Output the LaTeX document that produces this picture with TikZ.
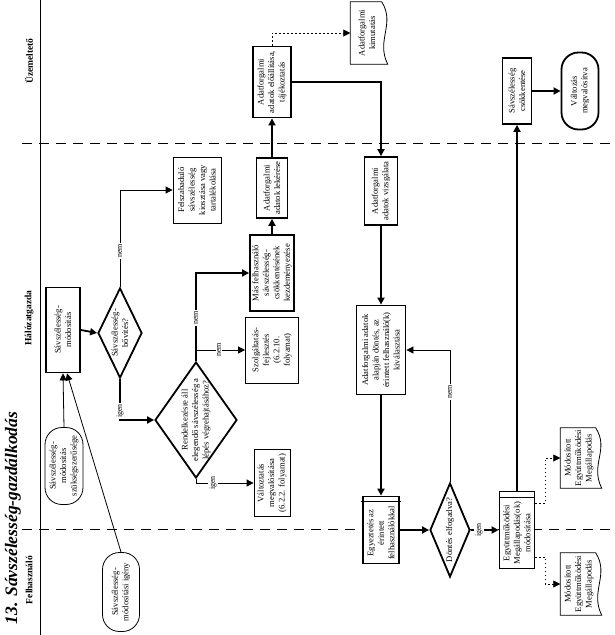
\documentclass[tikz,border=0pt]{standalone}
\usepackage{fontspec}
\setmainfont{Liberation Serif}
\usetikzlibrary{shapes.geometric,arrows.meta,calc}
\newcommand\docoutline[1]{%
  \draw[thn] (#1.north west) -- ($(#1.north east)+(-6,0)$)
    .. controls ($(#1.north east)+(8,22)$) and ($(#1.south east)+(-12,-24)$) .. (#1.south east)
    -- (#1.south west) -- cycle;}
\begin{document}
\begin{tikzpicture}[x=1pt,y=-1pt,
  tip/.style={-{Triangle[length=7pt,width=7pt]}},
  thk/.style={line width=1.8pt},
  thn/.style={line width=0.8pt},
  box/.style={draw,thk,rectangle,inner sep=0pt,fill=white},
  tbox/.style={draw,thn,rectangle,inner sep=0pt,fill=white},
  dia/.style={draw,thk,diamond,inner sep=0pt,fill=white},
  stad/.style={draw,rectangle,rounded corners=17pt,inner sep=0pt,fill=white},
  docbox/.style={rectangle,inner sep=0pt,fill=white},
  rt/.style={rotate=90,align=center,inner sep=0pt,font=\fontsize{8.6}{10.5}\selectfont},
  lb/.style={rotate=90,fill=white,inner sep=1pt,font=\fontsize{8}{9}\selectfont},
  lane/.style={rotate=90,inner sep=0pt,font=\fontsize{9.5}{11}\selectfont\bfseries},
  dots/.style={thn,dash pattern=on 1.2pt off 2.8pt},
  lanedash/.style={line width=1pt,dash pattern=on 10pt off 7pt}]
\useasboundingbox (0,0) rectangle (614,635);

% lanes
\draw[line width=1pt] (40,0) -- (40,635);
\draw[lanedash] (22,143) -- (614,143);
\draw[lanedash] (22,529) -- (614,529);
\node[rotate=90,inner sep=0pt,font=\fontsize{17.5}{19}\selectfont\bfseries\itshape] (title) at (13,518) {13. Sávszélesség-gazdálkodás};
\node[lane] (lz) at (29,61) {Üzemeltető};
\node[lane] (lh) at (29,318) {Hálózatgazda};
\node[lane] (lf) at (29,580) {Felhasználó};

% shapes
\node[box, minimum width=34pt, minimum height=85pt] (b1) at (63,330) {};
\node[dia, minimum width=44pt, minimum height=90pt] (d1) at (120,333) {};
\node[tbox, minimum width=48pt, minimum height=66pt] (fs) at (197,190) {};
\node[dia, minimum width=82pt, minimum height=116pt] (d2) at (196,420) {};
\node[tbox, minimum width=53pt, minimum height=66pt] (sz) at (272,350) {};
\node[tbox, minimum width=36pt, minimum height=67pt] (vb) at (272,483) {};
\node[box, minimum width=44pt, minimum height=76pt] (mb) at (272,273) {};
\node[box, minimum width=31pt, minimum height=60pt] (lk) at (272,188) {};
\node[box, minimum width=38pt, minimum height=71pt] (el) at (272,82) {};
\node[docbox, minimum width=37pt, minimum height=62pt] (doc1) at (369,33) {};
\node[box, minimum width=33pt, minimum height=68pt] (vz) at (381,191) {};
\node[box, minimum width=49pt, minimum height=89pt] (dn) at (381,350) {};
\node[box, minimum width=36pt, minimum height=67pt] (eg) at (381,530) {};
\node[dia, minimum width=40pt, minimum height=94pt] (d3) at (450,530) {};
\node[box, minimum width=35pt, minimum height=77pt] (em) at (517,530) {};
\node[box, minimum width=29pt, minimum height=66pt] (sc) at (517,91) {};
\node[stad, thk, minimum width=37pt, minimum height=77pt] (vm) at (580,91) {};
\node[docbox, minimum width=41pt, minimum height=60pt] (doc2) at (581,458) {};
\node[docbox, minimum width=41pt, minimum height=62pt] (doc3) at (581,584) {};
\node[stad, thn, minimum width=38pt, minimum height=77pt] (o1) at (64,466) {};
\node[stad, thn, minimum width=37pt, minimum height=79pt] (o2) at (121,592) {};

\docoutline{doc1}
\docoutline{doc2}
\docoutline{doc3}
\draw[thn] ($(eg.north west)+(-1.5,6)$) -- ($(eg.north east)+(1.5,6)$);
\draw[thn] ($(em.north west)+(0,7)$) -- ($(em.north east)+(0,7)$);

% texts
\node[rt] (b1t) at (b1) {Sávszélesség-\\módosítás};
\node[rt] (d1t) at (d1) {Sávszélesség-\\bővítés?};
\node[rt] (fst) at (fs) {Felszabaduló\\sávszélesség\\kiosztása vagy\\tartalékolása};
\node[rt] (d2t) at (d2) {Rendelkezésre áll\\elegendő sávszélesség a\\lépés végrehajtásához?};
\node[rt] (szt) at (sz) {Szolgáltatás-\\fejlesztés\\(6.2.10.\\folyamat)};
\node[rt] (vbt) at (vb) {Változtatás\\megvalósítása\\(6.2.2. folyamat)};
\node[rt] (mbt) at (mb) {Más felhasználó\\sávszélesség-\\csökkentésének\\kezdeményezése};
\node[rt] (lkt) at (lk) {Adatforgalmi\\adatok lekérése};
\node[rt] (elt) at (el) {Adatforgalmi\\adatok előállítása,\\tájékoztatás};
\node[rt] (doc1t) at ($(doc1)+(-2,0)$) {Adatforgalmi\\kimutatás};
\node[rt] (vzt) at (vz) {Adatforgalmi\\adatok vizsgálata};
\node[rt] (dnt) at (dn) {Adatforgalmi adatok\\alapján döntés, az\\érintett felhasználó(k)\\kiválasztása};
\node[rt] (egt) at ($(eg)+(0,3)$) {Egyeztetés az\\érintett\\felhasználókkal};
\node[rt] (d3t) at (d3) {Döntés elfogadva?};
\node[rt] (emt) at ($(em)+(0,3)$) {Együttműködési\\Megállapodás(ok)\\módosítása};
\node[rt] (sct) at (sc) {Sávszélesség\\csökkentése};
\node[rt] (vmt) at (vm) {Változás\\megvalósítva};
\node[rt] (doc2t) at ($(doc2)+(-2,0)$) {Módosított\\Együttműködési\\Megállapodás};
\node[rt] (doc3t) at ($(doc3)+(-2,0)$) {Módosított\\Együttműködési\\Megállapodás};
\node[rt] (o1t) at (o1) {Sávszélesség-\\módosítás\\szükségszerűsége};
\node[rt] (o2t) at (o2) {Sávszélesség-\\módosítási igény};

% connectors
\draw[thk,tip] (b1.east) -- (d1.west);
\draw[thn,tip] (d1.north) |- (fs.west);
\draw[thk,tip] (d1.south) |- (d2.west);
\draw[thk,tip] (d2.north) |- (mb.west);
\draw[thn,tip] (d2.north |- sz.west) -- (sz.west);
\draw[thn,tip] (d2.south) |- (vb.west);
\draw[thk,tip] (mb.north) -- (lk.south);
\draw[thk,tip] (lk.north) -- (el.south);
\draw[dots,tip] (el.north) |- (doc1.west);
\draw[thk,tip] (el.east) -| (vz.north);
\draw[thk,tip] (vz.south) -- (dn.north);
\draw[thk,tip] (dn.south) -- (eg.north);
\draw[thk,tip] (eg.east) -- (d3.west);
\draw[thn,tip] (d3.north) |- (dn.east);
\draw[thk,tip] (d3.east) -- (em.west);
\draw[thk,tip] (em.north) -- (sc.south);
\draw[thk,tip] (sc.east) -- (vm.west);
\draw[dots,tip] ($(em.east)+(0,-27)$) -- ++(10,0) |- (doc2.west);
\draw[dots,tip] ($(em.east)+(0,27)$) -- ++(10,0) |- (doc3.west);
\draw[thn,tip] (o1.north) -- (b1.south);
\draw[thn,tip] (o2.north) -- ($(b1.south)+(4,0)$);

% labels
\node[lb] (l1) at (120,251) {nem};
\node[lb] (l2) at (120,411) {igen};
\node[lb] (l3) at (196,318) {nem};
\node[lb] (l4) at (219,350) {nem};
\node[lb] (l5) at (213,483) {igen};
\node[lb] (l6) at (450,392) {nem};
\node[lb] (l7) at (479,530) {igen};
\end{tikzpicture}
\end{document}
